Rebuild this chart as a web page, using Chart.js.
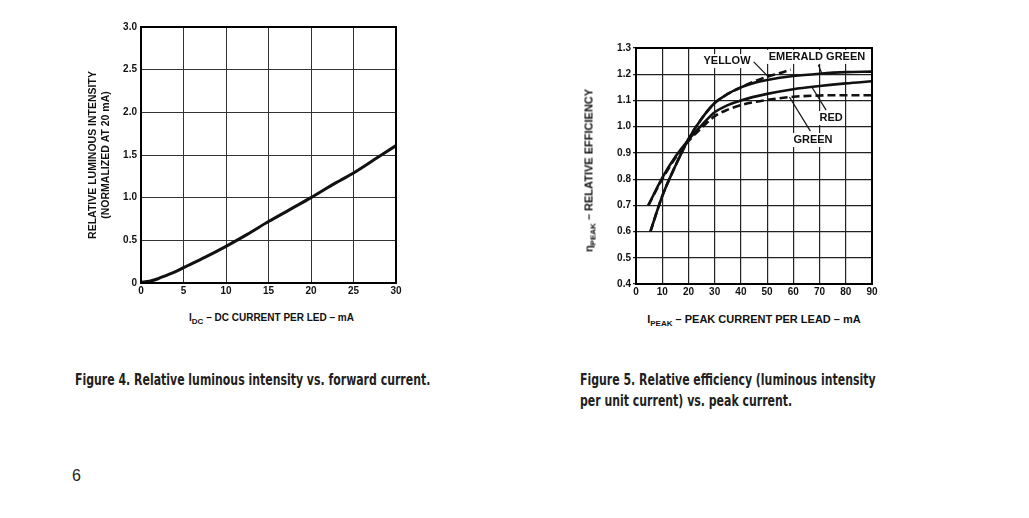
<!DOCTYPE html>
<html>
<head>
<meta charset="utf-8">
<script src="https://cdn.jsdelivr.net/npm/chart.js@4.4.1/dist/chart.umd.min.js"></script>
<style>
  body {
    margin: 0;
    width: 1029px;
    height: 518px;
    background: #fff;
    position: relative;
    overflow: hidden;
    font-family: "Liberation Sans", Arial, sans-serif;
  }
  .box {
    position: absolute;
  }
  .axis-title {
    position: absolute;
    font-weight: bold;
    font-size: 10px;
    color: #111;
    white-space: nowrap;
    text-align: center;
  }
  .axis-title sub {
    font-size: 8px;
    vertical-align: -3px;
  }
  .caption {
    position: absolute;
    font-family: "Liberation Sans Narrow", "DejaVu Sans Condensed", sans-serif;
    font-weight: bold;
    font-size: 16px;
    line-height: 21px;
    color: #231f20;
    white-space: nowrap;
    transform: scaleX(0.76);
    transform-origin: left top;
  }
  .page-num {
    position: absolute;
    left: 72px;
    top: 467px;
    font-size: 16px;
    color: #231f20;
  }
</style>
</head>
<body>

<div class="box" style="left:80px;top:15px;width:330px;height:285px;">
  <canvas id="ChartIntensity"></canvas>
</div>
<div class="axis-title" style="left:144px;top:312px;width:255px;">I<sub>DC</sub> – DC CURRENT PER LED – mA</div>

<div class="box" style="left:575px;top:35px;width:310px;height:265px;">
  <canvas id="ChartEfficiency"></canvas>
</div>
<div class="axis-title" style="left:490px;top:163px;width:200px;font-size:11px;transform:rotate(-90deg);">η<sub>PEAK</sub> – RELATIVE EFFICIENCY</div>
<div class="axis-title" style="left:636px;top:313px;width:236px;font-size:11px;">I<sub>PEAK</sub> – PEAK CURRENT PER LEAD – mA</div>

<div class="caption" style="left:75px;top:369px;">Figure 4. Relative luminous intensity vs. forward current.</div>
<div class="caption" style="left:580px;top:369px;">Figure 5. Relative efficiency (luminous intensity<br>per unit current) vs. peak current.</div>
<div class="page-num">6</div>

<script>
// Figure 4 data
const currentDC = [0, 1, 2, 3, 4, 5, 7.5, 10, 12.5, 15, 17.5, 20, 22.5, 25, 27.5, 30];
const luminousIntensity = [0.01, 0.02, 0.05, 0.09, 0.13, 0.18, 0.3, 0.43, 0.57, 0.72, 0.86, 1.0, 1.15, 1.29, 1.45, 1.61];

// Figure 5 data
const currentEmerald = [5.5, 10, 15, 20, 25, 30, 35, 40, 45, 50, 60, 70, 80, 90];
const effEmerald = [0.6, 0.735, 0.85, 0.952, 1.03, 1.09, 1.125, 1.15, 1.167, 1.178, 1.193, 1.202, 1.208, 1.21];
const currentYellow = [5.5, 10, 15, 20, 25, 30, 35, 40, 45, 50, 55, 59];
const effYellow = [0.6, 0.735, 0.85, 0.952, 1.03, 1.09, 1.125, 1.15, 1.172, 1.19, 1.205, 1.218];
const currentRed = [4.7, 10, 15, 20, 25, 30, 35, 40, 50, 60, 70, 80, 90];
const effRed = [0.7, 0.805, 0.885, 0.95, 1.005, 1.055, 1.082, 1.1, 1.125, 1.143, 1.155, 1.165, 1.173];
const currentGreen = [4.7, 10, 15, 20, 25, 30, 35, 40, 50, 60, 70, 80, 90];
const effGreen = [0.7, 0.8, 0.88, 0.945, 0.995, 1.04, 1.065, 1.082, 1.102, 1.114, 1.119, 1.12, 1.12];

const toPoints = (xs, ys) => xs.map((x, i) => ({ x: x, y: ys[i] }));

Chart.defaults.font.family = '"Liberation Sans", Arial, sans-serif';
Chart.defaults.color = "#111";

// frame around the plot area
const frame = {
  id: "frame",
  afterDraw(chart) {
    const { ctx, chartArea } = chart;
    ctx.save();
    ctx.strokeStyle = "#000";
    ctx.lineWidth = 2;
    ctx.strokeRect(chartArea.left, chartArea.top, chartArea.right - chartArea.left, chartArea.bottom - chartArea.top);
    ctx.restore();
  },
};

const tickFont = { size: 10, weight: "bold" };

// Chart intensity
const ChartIntensity = document.getElementById("ChartIntensity");

new Chart(ChartIntensity, {
  type: "scatter",
  data: {
    datasets: [
      {
        data: toPoints(currentDC, luminousIntensity),
        showLine: true,
        borderColor: "#111",
        borderWidth: 3,
        pointRadius: 0,
        cubicInterpolationMode: "monotone",
      },
    ],
  },
  options: {
    responsive: true,
    maintainAspectRatio: false,
    animation: false,
    layout: { padding: { top: 12, right: 14, left: 7, bottom: 0 } },
    plugins: { legend: { display: false }, tooltip: { enabled: false } },
    scales: {
      x: {
        type: "linear",
        min: 0,
        max: 30,
        ticks: { stepSize: 5, font: tickFont, padding: 2, maxRotation: 0 },
        grid: { color: "#333", lineWidth: 1, drawTicks: false },
        border: { color: "#000", width: 2 },
        afterFit(scale) {
          scale.height = 17;
        },
      },
      y: {
        min: 0,
        max: 3,
        ticks: {
          stepSize: 0.5,
          font: tickFont,
          padding: 4,
          callback: (v) => (v === 0 ? "0" : v.toFixed(1)),
        },
        grid: { color: "#333", lineWidth: 1, drawTicks: false },
        border: { color: "#000", width: 2 },
        title: {
          display: true,
          text: ["RELATIVE LUMINOUS INTENSITY", "(NORMALIZED AT 20 mA)"],
          font: { size: 10.5, weight: "bold" },
          padding: 0,
        },
        afterFit(scale) {
          scale.width = 54;
        },
      },
    },
  },
  plugins: [frame],
});

// curve labels with leader lines for figure 5
const curveLabels = {
  id: "curveLabels",
  afterDatasetsDraw(chart) {
    const { ctx, scales } = chart;
    const items = [
      { text: "YELLOW", at: [34.7, 1.25], from: [44.9, 1.247], to: [50.5, 1.19] },
      { text: "EMERALD GREEN", at: [69, 1.266], from: [69.5, 1.236], to: [70.8, 1.205] },
      { text: "RED", at: [74.4, 1.033], from: [72.5, 1.063], to: [67, 1.152] },
      { text: "GREEN", at: [67.5, 0.949], from: [66.5, 0.983], to: [58.5, 1.113] },
    ];
    ctx.save();
    ctx.font = 'bold 11px "Liberation Sans", Arial, sans-serif';
    ctx.textAlign = "center";
    ctx.textBaseline = "middle";
    items.forEach((item) => {
      ctx.strokeStyle = "#111";
      ctx.lineWidth = 1.2;
      ctx.beginPath();
      ctx.moveTo(scales.x.getPixelForValue(item.from[0]), scales.y.getPixelForValue(item.from[1]));
      ctx.lineTo(scales.x.getPixelForValue(item.to[0]), scales.y.getPixelForValue(item.to[1]));
      ctx.stroke();

      const px = scales.x.getPixelForValue(item.at[0]);
      const py = scales.y.getPixelForValue(item.at[1]);
      const w = ctx.measureText(item.text).width;
      ctx.fillStyle = "#fff";
      ctx.fillRect(px - w / 2 - 2, py - 7, w + 4, 14);
      ctx.fillStyle = "#111";
      ctx.fillText(item.text, px, py);
    });
    ctx.restore();
  },
};

// Chart efficiency
const ChartEfficiency = document.getElementById("ChartEfficiency");

const curveStyle = {
  showLine: true,
  borderColor: "#111",
  borderWidth: 2.6,
  pointRadius: 0,
  cubicInterpolationMode: "monotone",
};

new Chart(ChartEfficiency, {
  type: "scatter",
  data: {
    datasets: [
      { label: "GREEN", data: toPoints(currentGreen, effGreen), ...curveStyle, borderDash: [8, 4] },
      { label: "RED", data: toPoints(currentRed, effRed), ...curveStyle },
      { label: "YELLOW", data: toPoints(currentYellow, effYellow), ...curveStyle, borderDash: [8, 4] },
      { label: "EMERALD GREEN", data: toPoints(currentEmerald, effEmerald), ...curveStyle },
    ],
  },
  options: {
    responsive: true,
    maintainAspectRatio: false,
    animation: false,
    layout: { padding: { top: 13, right: 13, left: 0, bottom: 0 } },
    plugins: { legend: { display: false }, tooltip: { enabled: false } },
    scales: {
      x: {
        type: "linear",
        min: 0,
        max: 90,
        ticks: { stepSize: 10, font: tickFont, padding: 2, maxRotation: 0 },
        grid: { color: "#222", lineWidth: 1.2, drawTicks: false },
        border: { color: "#000", width: 2 },
        afterFit(scale) {
          scale.height = 16;
        },
      },
      y: {
        min: 0.4,
        max: 1.3,
        ticks: {
          stepSize: 0.1,
          font: tickFont,
          padding: 2,
          callback: (v) => v.toFixed(1),
        },
        grid: { color: "#222", lineWidth: 1.2, tickLength: 3 },
        border: { color: "#000", width: 2 },
        afterFit(scale) {
          scale.width = 61;
        },
      },
    },
  },
  plugins: [frame, curveLabels],
});
</script>
</body>
</html>
